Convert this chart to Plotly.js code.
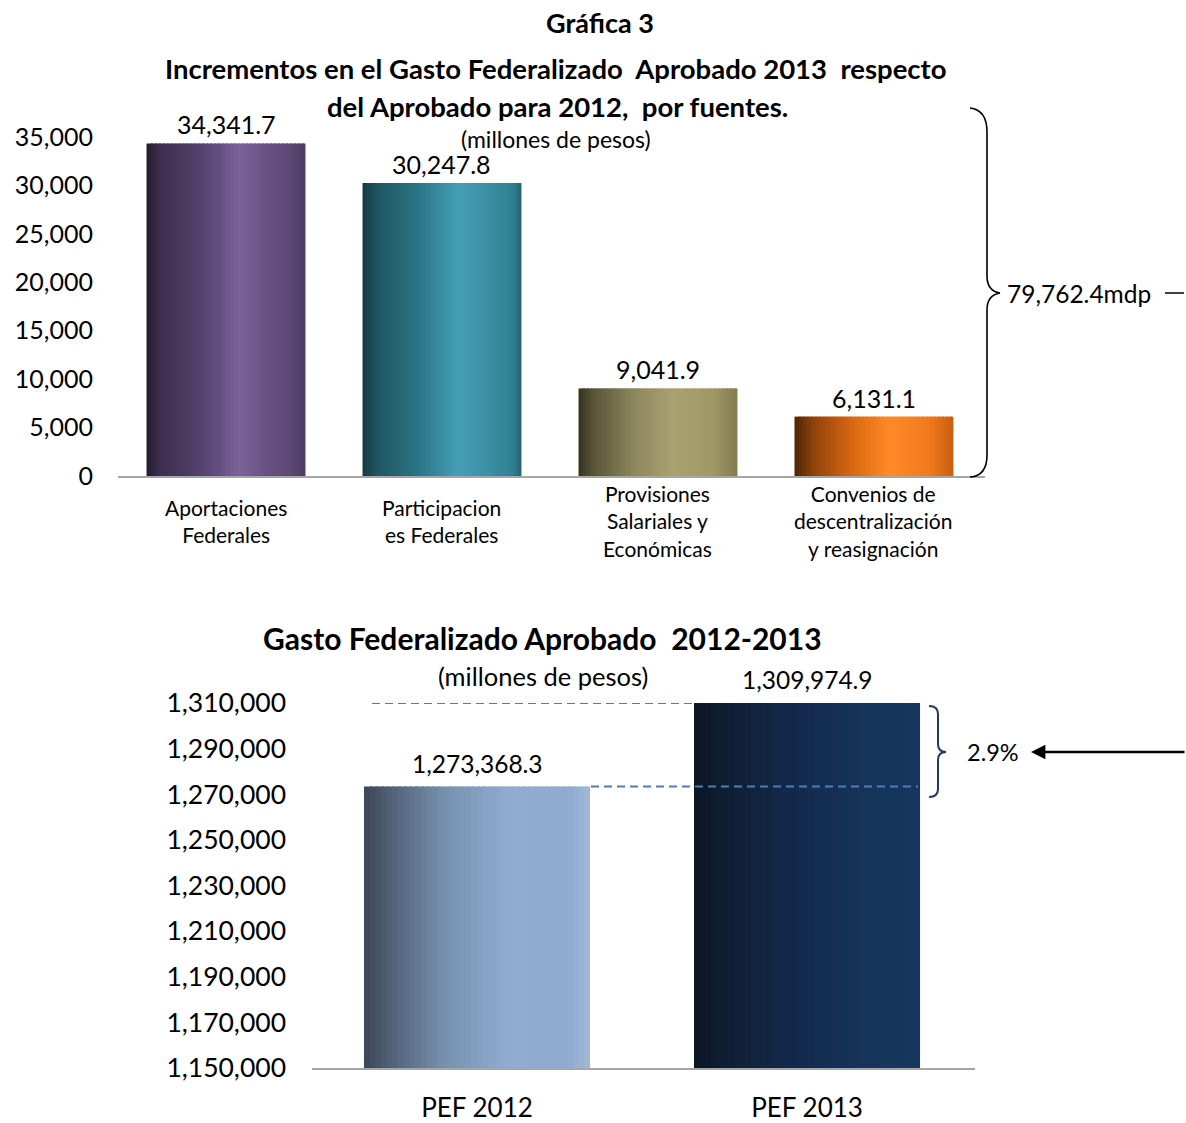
<!DOCTYPE html>
<html>
<head>
<meta charset="utf-8">
<script src="https://cdn.plot.ly/plotly-3.0.1.min.js"></script>
<style>html,body{margin:0;padding:0;background:#fff;}</style>
</head>
<body>
<div id="chart" style="width:1186px;height:1123px;"></div>
<script>
// ---------- DATA ----------
const topCategories = ['Aportaciones Federales', 'Participaciones Federales', 'Provisiones Salariales y Económicas', 'Convenios de descentralización y reasignación'];
const topCategoryLabels = ['Aportaciones<br>Federales', 'Participacion<br>es Federales', 'Provisiones<br>Salariales y<br>Económicas', 'Convenios de<br>descentralización<br>y reasignación'];
const topValues = [34341.7, 30247.8, 9041.9, 6131.1];
const topTotalLabel = '79,762.4mdp';
const topTickVals = [0, 5000, 10000, 15000, 20000, 25000, 30000, 35000];

const bottomCategories = ['PEF 2012', 'PEF 2013'];
const bottomValues = [1273368.3, 1309974.9];
const bottomChangeLabel = '2.9%';
const bottomTickVals = [1150000, 1170000, 1190000, 1210000, 1230000, 1250000, 1270000, 1290000, 1310000];

// ---------- STYLE ----------
const W = 1186, H = 1123;
const FONT = 'Lato, "Open Sans", sans-serif';
const px = x => x / W;
const py = y => 1 - y / H;

const topGradients = [
  [[0,'#251b2f'],[0.08,'#3b2e4d'],[0.3,'#4f3e66'],[0.45,'#634e80'],[0.58,'#7a6399'],[0.75,'#685283'],[0.92,'#5a4673'],[1,'#4b3a60']],
  [[0,'#163a42'],[0.1,'#1f5663'],[0.35,'#2b7586'],[0.6,'#449fb5'],[0.8,'#3a8fa4'],[0.95,'#2f7f91'],[1,'#26606e']],
  [[0,'#353322'],[0.1,'#5a5639'],[0.35,'#8d875e'],[0.6,'#aaa271'],[0.85,'#9e9766'],[1,'#827b50']],
  [[0,'#4a2404'],[0.12,'#8f420a'],[0.35,'#d56611'],[0.6,'#ff8a26'],[0.85,'#f07a1c'],[1,'#c85e10']]
];
const bottomGradients = [
  [[0,'#3b4555'],[0.1,'#4e5d72'],[0.35,'#7690ad'],[0.65,'#91acd0'],[0.9,'#8eaad0'],[1,'#a3b8d4']],
  [[0,'#0b1524'],[0.12,'#0f1d31'],[0.4,'#13284a'],[0.75,'#163459'],[1,'#17365d']]
];

function hexToRgb(h){ h=h.replace('#',''); return [parseInt(h.substr(0,2),16),parseInt(h.substr(2,2),16),parseInt(h.substr(4,2),16)]; }
function gradColor(stops, t){
  for (let i=0;i<stops.length-1;i++){
    const [t0,c0]=stops[i],[t1,c1]=stops[i+1];
    if (t>=t0 && t<=t1){
      const f=(t-t0)/(t1-t0||1), a=hexToRgb(c0), b=hexToRgb(c1);
      return 'rgb('+a.map((v,k)=>Math.round(v+(b[k]-v)*f)).join(',')+')';
    }
  }
  return stops[stops.length-1][1];
}
function sliceTraces(cats, vals, gradients, barWidth, n, xa, ya){
  const s = barWidth / n, traces = [];
  for (let i=0;i<n;i++){
    const t=(i+0.5)/n;
    traces.push({
      type:'bar', x:cats, y:vals, xaxis:xa, yaxis:ya,
      offset: cats.map(()=> -barWidth/2 + i*s),
      width: cats.map(()=> i<n-1 ? s*1.6 : s),
      marker:{color: gradients.map(g=>gradColor(g,t)), line:{width:0}},
      hoverinfo:'skip', showlegend:false
    });
  }
  return traces;
}
const fmt = v => v.toLocaleString('en-US',{minimumFractionDigits:1, maximumFractionDigits:1});

const data = [
  ...sliceTraces(topCategories, topValues, topGradients, 0.736, 40, 'x', 'y'),
  ...sliceTraces(bottomCategories, bottomValues, bottomGradients, 0.685, 40, 'x2', 'y2')
];

const annotations = [
  {text:'<b>Gráfica 3</b>', x:px(600), y:py(22), font:{size:27}},
  {text:'<b>Incrementos en el Gasto Federalizado  Aprobado 2013  respecto</b>', x:px(556), y:py(69), font:{size:27.5}},
  {text:'<b>del Aprobado para 2012,  por fuentes.</b>', x:px(557), y:py(106), font:{size:27.5}},
  {text:'(millones de pesos)', x:px(556), y:py(139), font:{size:23}},
  {text:'<b>Gasto Federalizado Aprobado  2012-2013</b>', x:px(542), y:py(638), font:{size:30}},
  {text:'(millones de pesos)', x:px(543), y:py(676), font:{size:25.5}},
  {text:topTotalLabel, x:px(1005), y:py(293), xanchor:'left', font:{size:24.5}},
  {text:bottomChangeLabel, x:px(993), y:py(752), font:{size:23.5}}
].map(a => Object.assign({xref:'paper', yref:'paper', showarrow:false, xanchor:'center', yanchor:'middle'}, a));

topCategories.forEach((c,i)=>{
  annotations.push({text:topCategoryLabels[i], x:c, xref:'x', y:py(521), yref:'paper', showarrow:false, yanchor:'middle', align:'center', font:{size:21}});
  annotations.push({text:fmt(topValues[i]), x:c, xref:'x', y:topValues[i], yref:'y', showarrow:false, yanchor:'bottom', yshift:2, font:{size:25}});
});
bottomCategories.forEach((c,i)=>{
  annotations.push({text:fmt(bottomValues[i]), x:c, xref:'x2', y:bottomValues[i], yref:'y2', showarrow:false, yanchor:'bottom', yshift:7, font:{size:24.5}});
});
// arrow pointing to 2.9%
annotations.push({text:'', x:px(1031), y:py(752), xref:'paper', yref:'paper', showarrow:true, ax:155, ay:0, arrowhead:2, arrowsize:1.2, arrowwidth:2.4, arrowcolor:'#000', standoff:0});

function P(x,y){ return px(x).toFixed(5)+','+py(y).toFixed(5); }
const bracePath = 'M'+P(970,108)+' Q'+P(987,110)+' '+P(987,132)+' L'+P(987,276)+' Q'+P(987,291)+' '+P(1000,293)+
  ' Q'+P(987,295)+' '+P(987,310)+' L'+P(987,455)+' Q'+P(987,476)+' '+P(970,477);
const bracketPath = 'M'+P(929,706)+' Q'+P(938,706)+' '+P(938,714)+' L'+P(938,744)+' Q'+P(938,752)+' '+P(946,752)+
  ' Q'+P(938,752)+' '+P(938,760)+' L'+P(938,789)+' Q'+P(938,797)+' '+P(929,797);

const shapes = [
  {type:'path', path:bracePath, xref:'paper', yref:'paper', line:{color:'#000', width:1.6}},
  {type:'line', xref:'paper', yref:'paper', x0:px(1165), x1:px(1184), y0:py(293), y1:py(293), line:{color:'#000', width:1.5}},
  {type:'path', path:bracketPath, xref:'paper', yref:'paper', line:{color:'#1f3864', width:2}},
  {type:'line', xref:'paper', yref:'y2', x0:px(372), x1:px(694), y0:bottomValues[1], y1:bottomValues[1], line:{color:'#4a7ebb', width:2, dash:'8px,5px'}},
  {type:'line', xref:'paper', yref:'y2', x0:px(591), x1:px(918), y0:bottomValues[0], y1:bottomValues[0], line:{color:'#4a7ebb', width:2, dash:'8px,5px'}}
];

const layout = {
  width:W, height:H, margin:{l:0,r:0,t:0,b:0},
  paper_bgcolor:'#fff', plot_bgcolor:'rgba(0,0,0,0)',
  font:{family:FONT, color:'#000'},
  barmode:'overlay', showlegend:false,
  xaxis:{domain:[px(118),px(985)], range:[-0.5,3.514], anchor:'y', type:'category',
         showline:true, linecolor:'#a6a6a6', linewidth:2, showticklabels:false, ticks:'', showgrid:false, zeroline:false, fixedrange:true},
  yaxis:{domain:[py(476),py(137)], range:[0,35000], anchor:'x', tickvals:topTickVals, ticktext:topTickVals.map(v=>v.toLocaleString('en-US')),
         showline:false, showgrid:false, zeroline:false, ticks:'', ticklabelstandoff:24, tickfont:{size:25}, fixedrange:true},
  xaxis2:{domain:[px(312),px(975)], range:[-0.5,1.509], anchor:'y2', type:'category',
         showline:true, linecolor:'#a6a6a6', linewidth:2, ticks:'', showgrid:false, zeroline:false, ticklabelstandoff:16, tickfont:{size:26}, fixedrange:true},
  yaxis2:{domain:[py(1068),py(703)], range:[1150000,1310000], anchor:'x2', tickvals:bottomTickVals, ticktext:bottomTickVals.map(v=>v.toLocaleString('en-US')),
         showline:false, showgrid:false, zeroline:false, ticks:'', ticklabelstandoff:25, tickfont:{size:26.5}, fixedrange:true},
  annotations:annotations, shapes:shapes
};

Plotly.newPlot('chart', data, layout, {displayModeBar:false, staticPlot:true});
</script>
</body>
</html>
